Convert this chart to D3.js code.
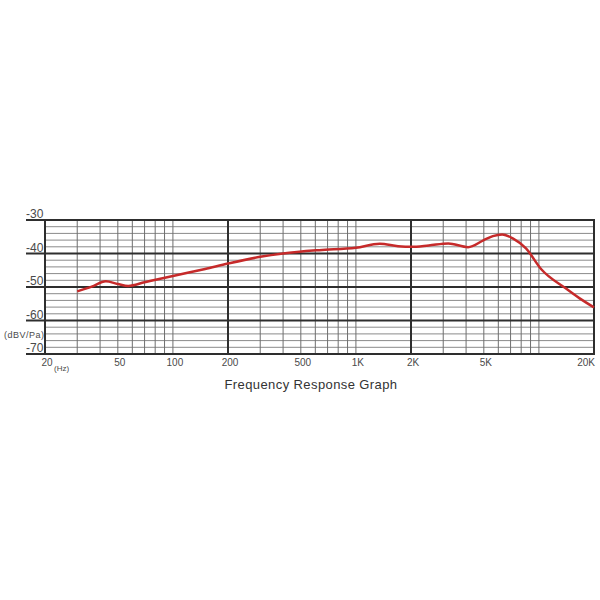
<!DOCTYPE html>
<html>
<head>
<meta charset="utf-8">
<script src="https://cdn.jsdelivr.net/npm/d3@7"></script>
<style>
  body { margin: 0; background: #fff; }
  svg { display: block; font-family: "Liberation Sans", Arial, sans-serif; }
</style>
</head>
<body>
<svg id="chart" width="600" height="600"></svg>
<script>
// response curve
const freqs = [30, 36, 43, 50, 57, 70, 100, 150, 200, 300, 400, 630, 1000, 1350, 1700, 2000, 2500, 3200, 4100, 5000, 5600, 6300, 7200, 8500, 10300, 14000, 16700, 20000];
const levels = [-51.3, -49.9, -48.3, -49.1, -49.7, -48.6, -46.7, -44.6, -43.0, -41.0, -40.0, -39.0, -38.3, -37.1, -37.8, -38.0, -37.6, -37.0, -38.1, -36.0, -34.8, -34.3, -35.5, -38.5, -44.7, -50.4, -53.4, -56.1];

const xTickValues = [20, 50, 100, 200, 500, 1000, 2000, 5000, 20000];
const xTickLabels = ["20", "50", "100", "200", "500", "1K", "2K", "5K", "20K"];
const yTickValues = [-30, -40, -50, -60, -70];
const majorFreqs = [20, 200, 2000, 20000];

const red = "#c62a2a";
const dark = "#2e2e2e";
const gridGrey = "#8a8a8a";
const textGrey = "#4a4a4a";

const svg = d3.select("#chart");
const margin = {top: 220, left: 45, right: 6, bottom: 246};
const plotW = 600 - margin.left - margin.right;
const plotH = 600 - margin.top - margin.bottom;

const x = d3.scaleLog().domain([20, 20000]).range([0, plotW]);
const y = d3.scaleLinear().domain([-70, -30]).range([plotH, 0]);

const g = svg.append("g")
    .attr("transform", `translate(${margin.left}, ${margin.top})`);

// minor horizontal lines, every 2 dB
g.selectAll(".hgrid")
    .data(y.ticks(20).filter(d => d % 10 !== 0))
    .enter().append("line")
    .attr("class", "hgrid")
    .attr("x1", 0).attr("x2", plotW)
    .attr("y1", d => y(d)).attr("y2", d => y(d))
    .style("stroke", gridGrey)
    .style("stroke-width", 1);

// vertical lines
g.selectAll(".vgrid")
    .data(x.ticks())
    .enter().append("line")
    .attr("class", "vgrid")
    .attr("x1", d => x(d)).attr("x2", d => x(d))
    .attr("y1", 0).attr("y2", plotH)
    .style("stroke", d => majorFreqs.includes(d) ? dark : "#6e6e6e")
    .style("stroke-width", d => majorFreqs.includes(d) ? 2 : 1);

// major horizontal lines, running out under the labels
g.selectAll(".hmajor")
    .data(yTickValues)
    .enter().append("line")
    .attr("class", "hmajor")
    .attr("x1", -19).attr("x2", plotW + 1)
    .attr("y1", d => y(d)).attr("y2", d => y(d))
    .style("stroke", dark)
    .style("stroke-width", 2);

g.selectAll(".ylabel")
    .data(yTickValues)
    .enter().append("text")
    .attr("class", "ylabel")
    .attr("x", -19)
    .attr("y", d => y(d) - 2)
    .style("font-size", "12px")
    .style("fill", textGrey)
    .text(d => d);

g.append("text")
    .attr("x", -41)
    .attr("y", y(-65) + 1)
    .style("font-size", "9px")
    .style("letter-spacing", "0.5px")
    .style("fill", textGrey)
    .text("(dBV/Pa)");

g.selectAll(".xlabel")
    .data(xTickValues)
    .enter().append("text")
    .attr("class", "xlabel")
    .attr("x", d => d === 20000 ? x(d) + 1 : x(d) + 2)
    .attr("y", plotH + 12)
    .attr("text-anchor", d => d === 20000 ? "end" : "middle")
    .style("font-size", "10px")
    .style("fill", textGrey)
    .text((d, i) => xTickLabels[i]);

g.append("text")
    .attr("x", x(20) + 9)
    .attr("y", plotH + 17)
    .style("font-size", "8px")
    .style("fill", textGrey)
    .text("(Hz)");

// response curve
const line = d3.line()
    .x(d => x(d[0]))
    .y(d => y(d[1]))
    .curve(d3.curveMonotoneX);

g.append("path")
    .datum(freqs.map((f, i) => [f, levels[i]]))
    .attr("d", line)
    .style("fill", "none")
    .style("stroke", red)
    .style("stroke-width", 2.5)
    .style("stroke-linejoin", "round");

svg.append("text")
    .attr("x", 311)
    .attr("y", 389)
    .attr("text-anchor", "middle")
    .style("font-size", "13px")
    .style("letter-spacing", "0.4px")
    .style("fill", "#333")
    .text("Frequency Response Graph");
</script>
</body>
</html>
